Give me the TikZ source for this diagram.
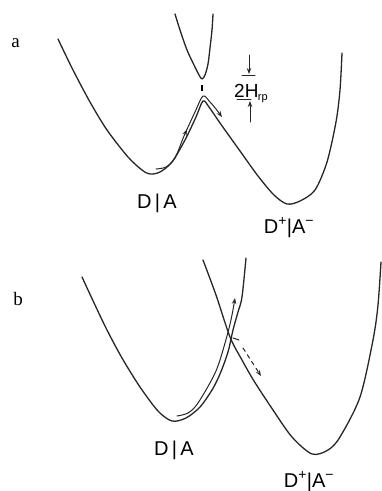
\documentclass[tikz,border=0pt]{standalone}
\usepackage{fontspec}
\setmainfont{Liberation Sans}
\newfontfamily\serifl{Liberation Serif}
\usetikzlibrary{arrows.meta,decorations.markings}
\begin{document}
\begin{tikzpicture}[x=1pt,y=-1pt,
  curve/.style={line width=1.3pt, line join=round, line cap=round, draw=black!85},
  traj/.style={line width=1pt, line cap=round, draw=black!85},
  lbl/.style={inner sep=0pt, anchor=base, font=\fontsize{20}{20}\selectfont},
  panel/.style={inner sep=0pt, anchor=base, font=\serifl\fontsize{19}{19}\selectfont},
  tip/.style={-{Stealth[length=6pt,width=4.5pt]}},
  midtip/.style={postaction={decorate},decoration={markings,
     mark=at position #1 with {\arrow{Stealth[length=6pt,width=4.5pt]}}}}
]
\useasboundingbox (0,0) rectangle (381,491);
% ---------- panel a ----------
\node[panel] (pa) at (15.5,47) {a};
% lower adiabatic surface
\draw[curve] plot[smooth] coordinates {(58,39) (73,70) (90,102) (107,130) (128,157)
  (142,170) (150,174) (160,172) (172,162) (185,140) (196,117) (203,101) (209,107)
  (220,123) (240,151) (258,176) (274,195) (287,204) (300,201) (315,190) (327,162)
  (336,122) (340,90) (342,53)};
% upper adiabatic surface
\draw[curve] plot[smooth] coordinates {(175,14) (180,30) (187,50) (194,65) (199,75)
  (202,79) (205,75) (208,64) (210,48) (212,30) (213,14)};
% dot between the surfaces
\draw[line width=1.6pt] (202,85) -- (202,91);
% trajectory
\draw[traj, tip, midtip=0.45] plot[smooth] coordinates {(156,169) (166,167) (175,158)
  (184,136) (195,112) (203,96) (210,102) (216,109) (222,117)};
% 2H_rp marker
\coordinate (t1) at (249,55);
\coordinate (t2) at (249,74);
\coordinate (b1) at (250,122);
\coordinate (b2) at (250,101);
\draw[traj, tip] (t1) -- (t2);
\draw[traj] (242,75.5) -- (255,75.5);
\draw[traj] (237,99.5) -- (251,99.5);
\draw[traj, tip] (b1) -- (b2);
\node[inner sep=0pt, anchor=base west, font=\fontsize{19}{19}\selectfont] (hrp) at (234,97)
  {2H\kern-0.5pt\raisebox{-3pt}{\fontsize{11}{11}\selectfont rp}};
% labels
\node[lbl] (da) at (157,208) {D\,|\,A};
\node[lbl] (dpa) at (289,233) {D\textsuperscript{+}|A\textsuperscript{−}};
% ---------- panel b ----------
\node[panel] (pb) at (18,305) {b};
\draw[curve] plot[smooth] coordinates {(82,277) (95,305) (107,330) (122,358) (140,387)
  (158,411) (172,421) (186,418) (200,407) (212,390) (220,374) (228,352) (233,330)
  (238,312) (242,297) (246,258)};
\draw[curve] plot[smooth] coordinates {(203,260) (216,295) (230,337) (242,360)
  (254,381) (273,410) (292,437) (312,454) (328,450) (340,437) (360,397) (373,340)
  (378,305) (381,262)};
% trajectory
\draw[traj, tip] plot[smooth] coordinates {(177,416) (188,413) (198,403) (216,371)
  (227,336) (232,315) (235,298)};
% hop tick and dashed continuation
\coordinate (h1) at (233,338);
\coordinate (h2) at (239,340);
\coordinate (d1) at (243,348);
\coordinate (d2) at (261,376);
\draw[traj] (h1) -- (h2);
\draw[traj, tip, dash pattern=on 4pt off 4pt] (d1) -- (d2);
\node[lbl] (db) at (174,455) {D\,|\,A};
\node[lbl] (dpb) at (309,487) {D\textsuperscript{+}|A\textsuperscript{−}};
\end{tikzpicture}
\end{document}
